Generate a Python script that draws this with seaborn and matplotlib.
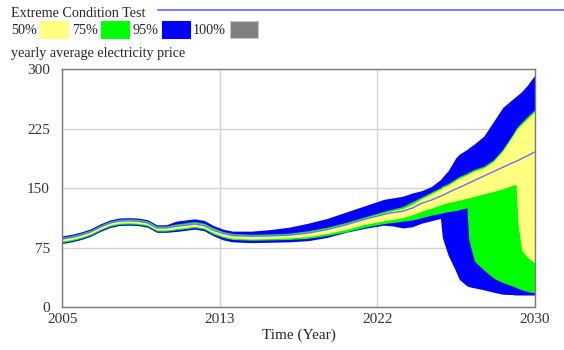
import numpy as np
import pandas as pd
import matplotlib.pyplot as plt
from matplotlib.patches import Rectangle
from matplotlib.lines import Line2D
import seaborn as sns

sns.set_style("white")
plt.rcParams['font.family'] = ['Liberation Serif', 'DejaVu Serif']

# ====================== DATA ======================
years = [2005, 2005.5, 2006, 2006.5, 2007, 2007.5, 2008, 2008.5, 2009, 2009.5,
         2010, 2010.5, 2011, 2011.5, 2012, 2012.5, 2013, 2013.5, 2014, 2015,
         2016, 2017, 2018, 2019, 2020, 2021, 2022, 2022.5, 2023, 2023.5,
         2024, 2024.5, 2025, 2025.1, 2025.4, 2025.8, 2026, 2026.4, 2026.5, 2026.8,
         2027.3, 2027.8, 2028.3, 2028.8, 2029, 2029.1, 2029.3, 2029.6, 2030]

current = [86, 88, 91, 95, 101, 106, 108.5, 109, 108.5, 106.5,
           100, 100, 102, 103.5, 105, 103, 97, 93, 90.5, 89.5,
           90, 91, 93.5, 98, 104, 111, 117, 119.5, 121, 125,
           131, 135, 140, 141, 144.5, 149, 151, 155.5, 156.5, 160,
           165.5, 171, 176.5, 182, 184, 185, 187.5, 191, 196]

blue_hi = [90, 92, 95, 99, 105, 110, 112.5, 113, 112.5, 110.5,
           104, 104, 108.5, 110, 111.5, 109.5, 103, 98.5, 96, 96,
           98, 101, 106, 112, 120, 128, 136, 138, 140, 144,
           147, 152, 161, 164, 172, 188, 193, 199, 201, 206,
           216, 234, 252, 262, 266, 268, 272, 280, 293]

green_hi = [88.5, 90.5, 93.5, 97.5, 103.5, 108.5, 111, 111.5, 111, 109,
            102.5, 102.5, 105, 106.5, 108, 106, 100, 95.5, 93, 92,
            92.5, 93.5, 96.5, 101, 107, 114, 121, 124, 127, 133,
            139, 145, 151, 153, 156, 162, 165, 169, 170.5, 174,
            178, 186, 199.5, 217.5, 225.5, 228.5, 233.5, 240.5, 249.5]

yellow_hi = [87, 89, 92, 96, 102, 107, 109.5, 110, 109.5, 107.5,
             101, 101, 103.5, 105, 106.5, 104.5, 98.5, 94, 91.5, 90.5,
             91, 92, 95, 99.5, 105.5, 112.5, 119, 122, 124.5, 130,
             137, 143, 149, 151, 154, 160, 163, 167, 168.5, 172,
             176, 184, 197.5, 215.5, 223, 226, 231, 238, 247]

yellow_lo = [83.5, 85.5, 88.5, 92.5, 98.5, 103.5, 106, 106.5, 106, 104,
             97.5, 97.5, 99, 100.5, 102, 100, 94, 89.5, 87, 86,
             86.5, 87.5, 89, 93, 98, 104.5, 109, 111, 113, 116.5,
             121, 125, 129, 130, 132, 134, 135, 137.5, 138, 140,
             143, 146, 149.5, 153.5, 155, 105, 72, 63, 56]

green_lo = [82, 84, 87, 91, 97, 102, 104.5, 105, 104.5, 102.5,
            96, 96, 97.5, 99, 100.5, 98.5, 92, 88, 85.5, 84.5,
            85, 85.5, 87, 90.5, 95, 101, 105.5, 107, 108.5, 110,
            113, 116, 118.5, 119, 120.5, 122, 123, 125.5, 85, 58,
            47, 37, 31, 27, 25, 24, 22, 20, 18]

blue_lo = [80.5, 82.5, 85.5, 89.5, 95.5, 100.5, 103, 103.5, 103, 101,
           94.5, 94.5, 95.5, 97, 98.5, 96.5, 90, 85, 82.5, 81.5,
           82, 82.5, 84, 88, 94.5, 99.5, 103.5, 102.5, 100, 101.5,
           106, 109, 112, 88, 66, 46, 35, 27, 26, 24.5,
           22, 19, 16.5, 16, 15.5, 15.5, 15.5, 15.5, 15.5]

legend_labels = ['50%', '75%', '95%', '100%']
legend_colors = ['#FFFF80', '#00FF00', '#0000FF', '#808080']

y_ticks = [0, 75, 150, 225, 300]
x_ticks = [2005, 2005 + 25 / 3, 2005 + 50 / 3, 2030]
x_ticklabels = ['2005', '2013', '2022', '2030']

df = pd.DataFrame({'time': years, 'current': current,
                   'blue_lo': blue_lo, 'blue_hi': blue_hi,
                   'green_lo': green_lo, 'green_hi': green_hi,
                   'yellow_lo': yellow_lo, 'yellow_hi': yellow_hi})

# ====================== FIGURE ======================
W, H = 564, 350
fig = plt.figure(figsize=(W / 100, H / 100), dpi=100)


def px(x, y):
    return x / W, 1 - y / H


ax = fig.add_axes([62.3 / W, 1 - 307.3 / H, (535 - 62.3) / W, 238 / H])

# bands, outermost first
ax.fill_between(df['time'], df['blue_lo'], df['blue_hi'], color='#0000FF', lw=0)
ax.fill_between(df['time'], df['green_lo'], df['green_hi'], color='#00FF00', lw=0)
ax.fill_between(df['time'], df['yellow_lo'], df['yellow_hi'], color='#FFFF80', lw=0)
sns.lineplot(data=df, x='time', y='current', ax=ax, color='#6b6bff', lw=1)

ax.set_xlim(2005, 2030)
ax.set_ylim(0, 300)
ax.set_xticks(x_ticks)
ax.set_xticklabels(x_ticklabels)
ax.set_yticks(y_ticks)
ax.set_yticklabels([str(v) for v in y_ticks])
ax.tick_params(length=0, labelsize=11, colors='#333333')
ax.tick_params(axis='y', pad=9)
ax.tick_params(axis='x', pad=4)
ax.grid(True, color='#d3d3d3', lw=1)
ax.set_axisbelow(True)
for s in ax.spines.values():
    s.set_color('#7a7a7a')
    s.set_linewidth(1)
ax.set_xlabel('Time (Year)', fontsize=11, labelpad=2)
ax.set_ylabel('')

# ====================== HEADER / LEGEND ======================
fs = 10.2
fig.text(*px(11, 17), 'Extreme Condition Test', fontsize=fs, va='baseline')
fig.add_artist(Line2D([158 / W, 1], [1 - 10 / H, 1 - 10 / H], color='#8080ff', lw=1.5))

text_x = [11, 72.5, 132.5, 193]
box_x = [40.3, 101, 162.3, 230]
for lab, col, tx, bx in zip(legend_labels, legend_colors, text_x, box_x):
    fig.text(*px(tx, 34), lab, fontsize=fs, va='baseline')
    fig.add_artist(Rectangle(px(bx, 38.3), 28 / W, 17.6 / H, facecolor=col,
                             edgecolor='#c8c8c8' if lab == '100%' else col, lw=0.8))

fig.text(*px(11, 57), 'yearly average electricity price', fontsize=fs, va='baseline')

fig.savefig('out.png', dpi=100)
